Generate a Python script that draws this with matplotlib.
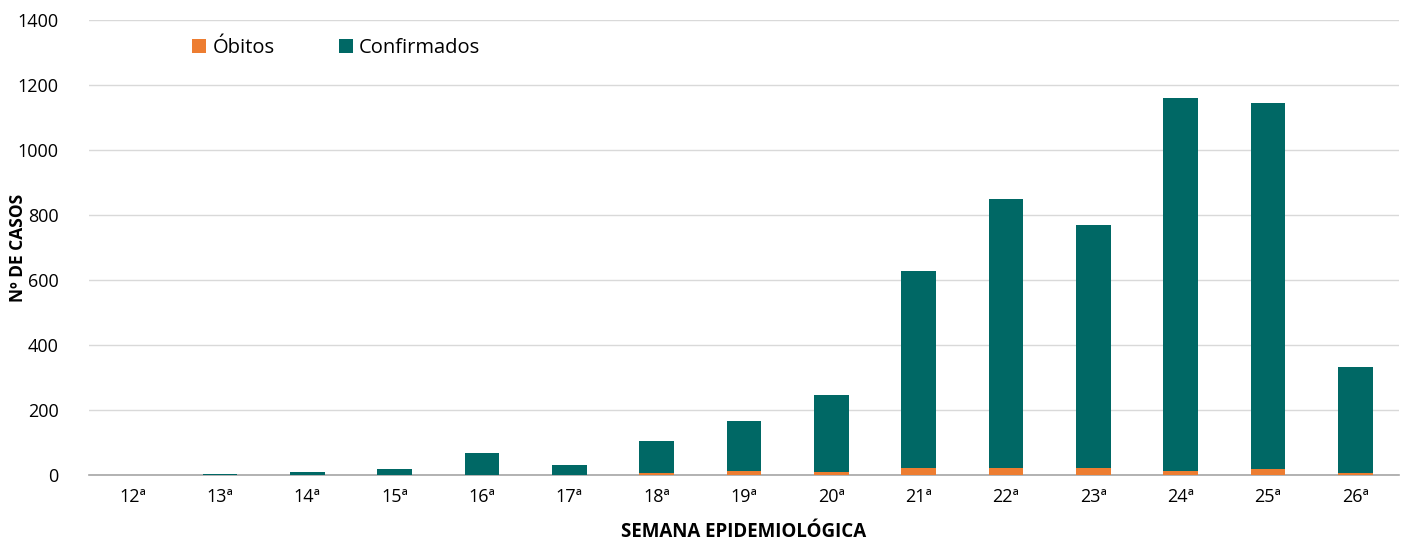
import matplotlib.pyplot as plt
import numpy as np

semanas = ['12ª', '13ª', '14ª', '15ª', '16ª', '17ª', '18ª', '19ª', '20ª',
           '21ª', '22ª', '23ª', '24ª', '25ª', '26ª']
obitos = [0, 0, 0, 1, 1, 1, 5, 12, 10, 21, 21, 21, 12, 17, 5]
totais = [0, 2, 8, 18, 68, 32, 104, 166, 246, 627, 849, 768, 1161, 1145, 332]
confirmados = [t - o for t, o in zip(totais, obitos)]

plt.rcParams['font.family'] = ['Open Sans', 'DejaVu Sans']

fig = plt.figure(figsize=(14.04, 5.44), dpi=100)
ax = fig.add_axes([89/1404, 69/544, 1310/1404, 455/544])

x = np.arange(len(semanas))
ax.bar(x, obitos, width=0.4, color='#ED7D31', label='Óbitos', zorder=3)
ax.bar(x, confirmados, width=0.4, bottom=obitos, color='#006865',
       label='Confirmados', zorder=3)

ax.set_xlim(-0.5, len(semanas) - 0.5)
ax.set_ylim(0, 1400)
ax.set_yticks(range(0, 1401, 200))
ax.set_xticks(x)
ax.set_xticklabels(semanas)
ax.tick_params(axis='both', length=0, labelsize=13, colors='#000000')
ax.tick_params(axis='x', pad=9)
ax.tick_params(axis='y', pad=22)
ax.grid(axis='y', color='#D9D9D9', linewidth=1, zorder=0)

for s in ['top', 'right', 'left']:
    ax.spines[s].set_visible(False)
ax.spines['bottom'].set_color('#A6A6A6')
ax.spines['bottom'].set_linewidth(1.2)

ax.set_xlabel('SEMANA EPIDEMIOLÓGICA', fontsize=13.5, fontweight='bold')
ax.set_ylabel('Nº DE CASOS', fontsize=12.5, fontweight='bold')
ax.xaxis.set_label_coords(0.5, -0.103)
ax.yaxis.set_label_coords(-0.047, 0.5)

ax.legend(loc='upper left', bbox_to_anchor=(0.065, 1.0), ncol=2, frameon=False,
          fontsize=14.5, handlelength=0.7, handleheight=0.7, handletextpad=0.3,
          columnspacing=3.2)

fig.savefig('out.png', dpi=100)
